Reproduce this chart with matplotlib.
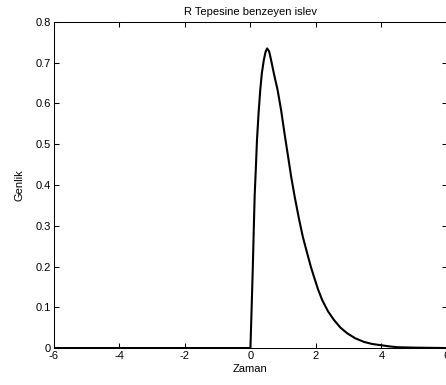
import matplotlib
matplotlib.use("Agg")
import matplotlib.pyplot as plt

plt.rcParams['font.family'] = ['Liberation Sans', 'DejaVu Sans']

# values
zaman = [-6, 0, 0.03, 0.07, 0.10, 0.13, 0.17, 0.20, 0.25, 0.30, 0.35, 0.41, 0.46, 0.51,
         0.57, 0.63, 0.72, 0.83, 0.94, 1.04, 1.14, 1.245, 1.35, 1.48, 1.60, 1.735, 1.85,
         1.94, 2.06, 2.19, 2.37, 2.55, 2.75, 2.96, 3.2, 3.47, 3.72, 3.98, 4.25, 4.5, 5.0, 6.0]
genlik = [0, 0, 0.08, 0.19, 0.285, 0.375, 0.45, 0.51, 0.578, 0.633, 0.675, 0.707, 0.726, 0.735,
          0.728, 0.707, 0.672, 0.633, 0.582, 0.527, 0.475, 0.42, 0.372, 0.318, 0.273, 0.232, 0.198,
          0.175, 0.145, 0.118, 0.09, 0.069, 0.05, 0.036, 0.024, 0.015, 0.01, 0.007, 0.004, 0.002, 0.001, 0]

xticks = [-6, -4, -2, 0, 2, 4, 6]
yticks = [0, 0.1, 0.2, 0.3, 0.4, 0.5, 0.6, 0.7, 0.8]

fig = plt.figure(figsize=(4.46, 3.85), dpi=100)
ax = fig.add_axes([0.121, 0.096, 0.881, 0.847])
ax.plot(zaman, genlik, color='black', linewidth=1.5, solid_joinstyle='round')

ax.set_xlim(-6, 6)
ax.set_ylim(0, 0.8)
ax.set_xticks(xticks)
ax.set_xticklabels([str(t) for t in xticks])
ax.set_yticks(yticks)
ax.set_yticklabels(['0'] + [f'{t:.1f}' for t in yticks[1:]])
ax.tick_params(direction='in', length=3.5, width=0.75, labelsize=8,
               top=True, right=True, pad=2)
for s in ax.spines.values():
    s.set_linewidth(0.75)

ax.set_title('R Tepesine benzeyen islev', fontsize=8, pad=5)
ax.set_xlabel('Zaman', fontsize=8, labelpad=2)
ax.set_ylabel('Genlik', fontsize=8, labelpad=8)

fig.savefig('out.png', dpi=100)
